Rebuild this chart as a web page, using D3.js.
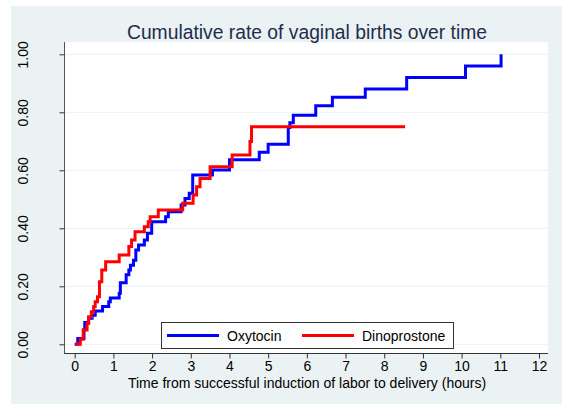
<!DOCTYPE html>
<head>
  <meta charset="utf-8">
  <script src="https://d3js.org/d3.v7.min.js"></script>
  <style>
    body { margin:0; background:#fff; }
    svg { display:block; font-family:"Liberation Sans", Arial, sans-serif; }
  </style>
</head>
<body>
<script>
// Oxytocin cumulative rate (step after)
var oxyTime = [0, 0.08, 0.24, 0.26, 0.36, 0.45, 0.53, 0.72, 0.88, 0.92, 1.15, 1.18, 1.33, 1.40, 1.44,
  1.52, 1.58, 1.65, 1.80, 1.88, 1.99, 2.35, 2.42, 2.75, 2.85, 2.96, 3.05, 3.56, 4.00, 4.77, 5.00,
  5.52, 5.56, 5.65, 6.23, 6.66, 7.51, 8.58, 10.1, 11.02];
var oxyRate = [0, 0.02, 0.05, 0.075, 0.09, 0.10, 0.115, 0.13, 0.147, 0.16, 0.176, 0.212, 0.24, 0.256, 0.273,
  0.29, 0.325, 0.342, 0.36, 0.383, 0.423, 0.44, 0.457, 0.48, 0.503, 0.521, 0.584, 0.601, 0.636, 0.662, 0.69,
  0.748, 0.764, 0.79, 0.823, 0.852, 0.88, 0.92, 0.96, 1.0];

// Dinoprostone cumulative rate
var dinoTime = [0.02, 0.145, 0.22, 0.32, 0.36, 0.43, 0.49, 0.53, 0.59, 0.64, 0.70, 0.80, 1.15, 1.40, 1.47,
  1.56, 1.80, 1.90, 1.95, 2.16, 2.79, 3.06, 3.15, 3.24, 3.50, 4.07, 4.53, 4.57, 8.54];
var dinoRate = [0, 0.017, 0.049, 0.072, 0.095, 0.112, 0.13, 0.147, 0.164, 0.216, 0.256, 0.285, 0.308, 0.337, 0.36,
  0.388, 0.405, 0.423, 0.44, 0.463, 0.486, 0.515, 0.543, 0.572, 0.612, 0.653, 0.699, 0.75, 0.75];

var xTicks = d3.range(0, 13, 1);
var yTicks = [0, 0.2, 0.4, 0.6, 0.8, 1.0];

var svg = d3.select("body").append("svg")
  .attr("width", 562).attr("height", 404);

// outer background
svg.append("rect").attr("x", 11).attr("y", 6).attr("width", 551).attr("height", 398)
  .attr("fill", "#eaf2f3");
// plot region
svg.append("rect").attr("x", 64).attr("y", 42).attr("width", 484).attr("height", 311)
  .attr("fill", "#fff");

var x = d3.scaleLinear().domain([0, 12]).range([74.7, 539]);
var y = d3.scaleLinear().domain([0, 1]).range([344.3, 54.3]);

// gridlines
svg.append("g").selectAll("line").data(yTicks).enter().append("line")
  .attr("x1", 64).attr("x2", 548)
  .attr("y1", function(d){ return y(d); }).attr("y2", function(d){ return y(d); })
  .attr("stroke", "#eaf2f3").attr("stroke-width", 1);

// title
svg.append("text").attr("x", 307).attr("y", 39).attr("text-anchor", "middle")
  .attr("font-size", 19.3).attr("fill", "#1e2d4c")
  .text("Cumulative rate of vaginal births over time");

// x axis
var xAxis = svg.append("g").attr("transform", "translate(0,353.5)")
  .call(d3.axisBottom(x).tickValues(xTicks).tickSize(5).tickPadding(3).tickSizeOuter(0));
xAxis.select(".domain").attr("stroke", "#333").attr("d", "M64,0H548");
xAxis.selectAll(".tick line").attr("stroke", "#333");
xAxis.selectAll("text").attr("font-size", 14).attr("font-family", "Liberation Sans, Arial, sans-serif").attr("fill", "#000");

// y axis
var yAxis = svg.append("g").attr("transform", "translate(64.5,0)")
  .call(d3.axisLeft(y).tickValues(yTicks).tickSize(5).tickFormat(d3.format(".2f")).tickSizeOuter(0));
yAxis.select(".domain").attr("stroke", "#555").attr("d", "M0,42V353.5");
yAxis.selectAll(".tick line").attr("stroke", "#333");
yAxis.selectAll("text")
  .attr("font-size", 14).attr("font-family", "Liberation Sans, Arial, sans-serif").attr("fill", "#000")
  .attr("x", null).attr("dy", "0.35em").attr("text-anchor", "middle")
  .attr("transform", "translate(-41.5,0) rotate(-90)");

// axis title
svg.append("text").attr("x", 307).attr("y", 388).attr("text-anchor", "middle")
  .attr("font-size", 14).attr("fill", "#000")
  .text("Time from successful induction of labor to delivery (hours)");

var line = d3.line()
  .x(function(d){ return x(d[0]); })
  .y(function(d){ return y(d[1]); })
  .curve(d3.curveStepAfter);

var oxy = oxyTime.map(function(t, i){ return [t, oxyRate[i]]; });
var dino = dinoTime.map(function(t, i){ return [t, dinoRate[i]]; });

svg.append("path").datum(oxy).attr("d", line)
  .attr("fill", "none").attr("stroke", "#0000ff").attr("stroke-width", 3);
svg.append("path").datum(dino).attr("d", line)
  .attr("fill", "none").attr("stroke", "#ff0000").attr("stroke-width", 3);

// legend
var leg = svg.append("g");
leg.append("rect").attr("x", 161.5).attr("y", 322.5).attr("width", 292).attr("height", 26)
  .attr("fill", "#fff").attr("stroke", "#333").attr("stroke-width", 1);
var legItems = [
  {name: "Oxytocin", color: "#0000ff", x: 167},
  {name: "Dinoprostone", color: "#ff0000", x: 302}
];
legItems.forEach(function(d){
  leg.append("line").attr("x1", d.x).attr("x2", d.x + 52).attr("y1", 335.5).attr("y2", 335.5)
    .attr("stroke", d.color).attr("stroke-width", 3);
  leg.append("text").attr("x", d.x + 60).attr("y", 340.5).attr("font-size", 14).attr("fill", "#000")
    .text(d.name);
});
</script>
</body>
